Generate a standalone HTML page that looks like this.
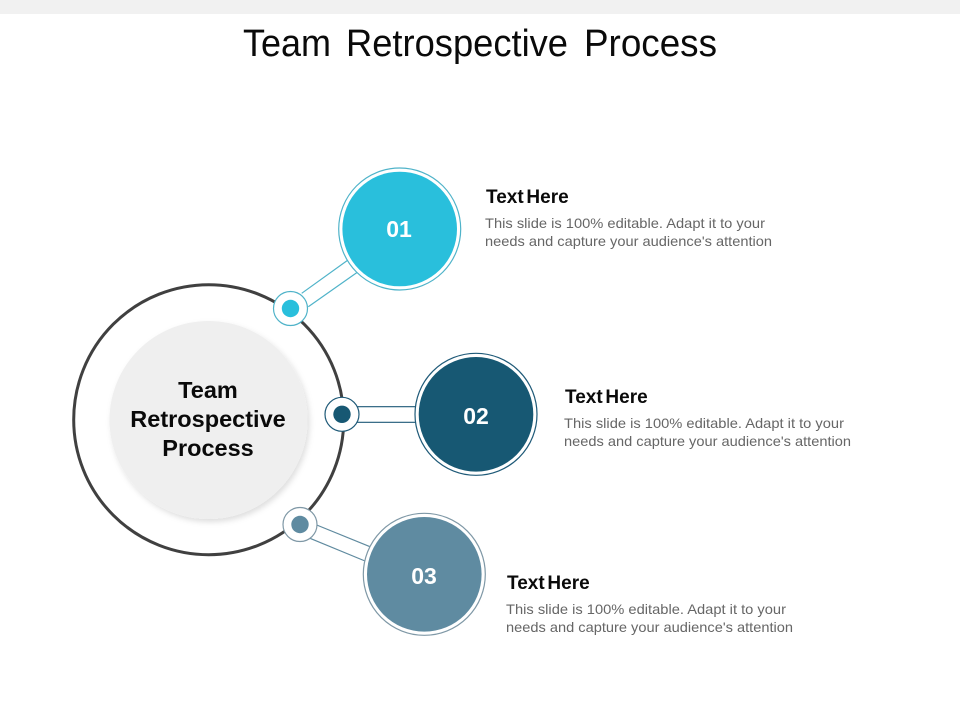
<!DOCTYPE html>
<html><head><meta charset="utf-8"><style>
html,body{margin:0;padding:0;background:#fff}
svg{display:block}
text{font-family:"Liberation Sans",sans-serif}
.t{font-size:38px;fill:#0a0a0a}
.h{font-size:19px;font-weight:700;fill:#0a0a0a;word-spacing:-2.500px}
.b{font-size:14px;fill:#666}
.n{font-size:23px;font-weight:700;fill:#fff;text-anchor:middle}
.c{font-size:23.500px;font-weight:700;fill:#0a0a0a;text-anchor:middle}
</style></head><body>
<svg width="960" height="720" viewBox="0 0 960 720" xmlns="http://www.w3.org/2000/svg">
<defs><filter id="s" x="-20%" y="-20%" width="150%" height="150%"><feDropShadow dx="2" dy="3" stdDeviation="3" flood-color="#000" flood-opacity=".13"/></filter></defs>
<rect width="960" height="14" fill="#f1f1f1"/>
<text class="t" x="243" y="56" textLength="88" lengthAdjust="spacingAndGlyphs">Team</text>
<text class="t" x="346" y="56" textLength="222" lengthAdjust="spacingAndGlyphs">Retrospective</text>
<text class="t" x="584" y="56" textLength="133" lengthAdjust="spacingAndGlyphs">Process</text>

<circle cx="208.700" cy="419.700" r="135" fill="#fff" stroke="#404040" stroke-width="3"/>
<circle cx="208.500" cy="420" r="99" fill="#efefef" filter="url(#s)"/>
<text class="c" x="208" y="398">Team</text>
<text class="c" x="208" y="427">Retrospective</text>
<text class="c" x="208" y="456">Process</text>

<line x1="301.700" y1="293.300" x2="348" y2="260" stroke="#4fb3c9" stroke-width="1.200"/>
<line x1="308.300" y1="306.700" x2="357" y2="272.500" stroke="#4fb3c9" stroke-width="1.200"/>
<circle cx="399.700" cy="229" r="61" fill="#fff" stroke="#4fb3c9" stroke-width="1.200"/>
<circle cx="399.700" cy="229" r="57.300" fill="#29bfdc"/>
<text class="n" x="399" y="237">01</text>
<circle cx="290.500" cy="308.500" r="17" fill="#fff" stroke="#4fb3c9" stroke-width="1.200"/>
<circle cx="290.500" cy="308.500" r="8.700" fill="#29bfdc"/>

<line x1="357" y1="406.700" x2="416" y2="406.700" stroke="#1f5a78" stroke-width="1.200"/>
<line x1="357" y1="422.300" x2="416" y2="422.300" stroke="#1f5a78" stroke-width="1.200"/>
<circle cx="476" cy="414.300" r="61" fill="#fff" stroke="#1f5a78" stroke-width="1.200"/>
<circle cx="476" cy="414.300" r="57.300" fill="#175873"/>
<text class="n" x="476" y="424">02</text>
<circle cx="342" cy="414.300" r="17" fill="#fff" stroke="#1f5a78" stroke-width="1.200"/>
<circle cx="342" cy="414.300" r="8.700" fill="#175873"/>

<line x1="316.700" y1="525" x2="370" y2="546.700" stroke="#5f8a9f" stroke-width="1.200"/>
<line x1="310" y1="538.300" x2="365" y2="561" stroke="#5f8a9f" stroke-width="1.200"/>
<circle cx="424.300" cy="574.300" r="61" fill="#fff" stroke="#7f98a6" stroke-width="1.200"/>
<circle cx="424.300" cy="574.300" r="57.300" fill="#5f8ba1"/>
<text class="n" x="424" y="584">03</text>
<circle cx="300" cy="524.500" r="17" fill="#fff" stroke="#7f98a6" stroke-width="1.200"/>
<circle cx="300" cy="524.500" r="8.700" fill="#5f8ba1"/>

<text class="h" x="486" y="203">Text Here</text>
<text class="b" x="485" y="228" textLength="280" lengthAdjust="spacingAndGlyphs">This slide is 100% editable. Adapt it to your</text>
<text class="b" x="485" y="246" textLength="287" lengthAdjust="spacingAndGlyphs">needs and capture your audience's attention</text>

<text class="h" x="565" y="403">Text Here</text>
<text class="b" x="564" y="428" textLength="280" lengthAdjust="spacingAndGlyphs">This slide is 100% editable. Adapt it to your</text>
<text class="b" x="564" y="446" textLength="287" lengthAdjust="spacingAndGlyphs">needs and capture your audience's attention</text>

<text class="h" x="507" y="589">Text Here</text>
<text class="b" x="506" y="614" textLength="280" lengthAdjust="spacingAndGlyphs">This slide is 100% editable. Adapt it to your</text>
<text class="b" x="506" y="632" textLength="287" lengthAdjust="spacingAndGlyphs">needs and capture your audience's attention</text>
</svg>
</body></html>
